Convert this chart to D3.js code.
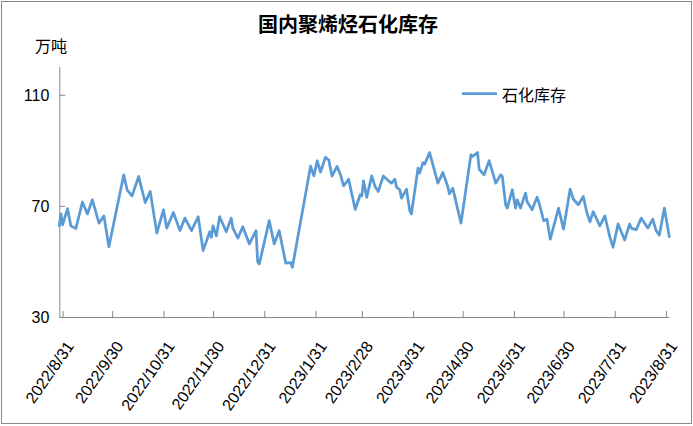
<!DOCTYPE html>
<html><head><meta charset="utf-8">
<script src="https://cdn.jsdelivr.net/npm/d3@7/dist/d3.min.js"></script>
<style>
html,body{margin:0;padding:0;background:#fff;}
svg{display:block;}
</style></head>
<body>
<svg id="chart" width="693" height="426"></svg>
<script>
const title = "国内聚烯烃石化库存";
const unitLabel = "万吨";
const seriesName = "石化库存";
const dates = ["2022-08-29","2022-08-30","2022-08-31","2022-09-03","2022-09-05","2022-09-08","2022-09-12","2022-09-15","2022-09-18","2022-09-22",
"2022-09-25","2022-09-28","2022-10-07","2022-10-09","2022-10-12","2022-10-16","2022-10-18","2022-10-20","2022-10-23","2022-10-27",
"2022-10-31","2022-11-02","2022-11-06","2022-11-10","2022-11-13","2022-11-17","2022-11-21","2022-11-24","2022-11-28","2022-11-29",
"2022-11-30","2022-12-02","2022-12-04","2022-12-08","2022-12-11","2022-12-12","2022-12-15","2022-12-18","2022-12-22","2022-12-26",
"2022-12-27","2022-12-28","2023-01-03","2023-01-06","2023-01-09","2023-01-13","2023-01-16","2023-01-17","2023-01-28","2023-01-30",
"2023-02-01","2023-02-03","2023-02-06","2023-02-08","2023-02-10","2023-02-13","2023-02-15","2023-02-17","2023-02-20","2023-02-24",
"2023-02-27","2023-02-28","2023-03-01","2023-03-03","2023-03-06","2023-03-08","2023-03-10","2023-03-13","2023-03-16","2023-03-18",
"2023-03-20","2023-03-21","2023-03-23","2023-03-24","2023-03-27","2023-03-29","2023-03-30","2023-04-03","2023-04-04","2023-04-06",
"2023-04-07","2023-04-10","2023-04-15","2023-04-18","2023-04-21","2023-04-22","2023-04-24","2023-04-29","2023-05-05","2023-05-06",
"2023-05-09","2023-05-10","2023-05-13","2023-05-16","2023-05-20","2023-05-23","2023-05-24","2023-05-26","2023-05-27","2023-05-30",
"2023-06-01","2023-06-02","2023-06-04","2023-06-07","2023-06-08","2023-06-11","2023-06-14","2023-06-15","2023-06-18","2023-06-20",
"2023-06-22","2023-06-27","2023-06-30","2023-07-04","2023-07-06","2023-07-09","2023-07-12","2023-07-14","2023-07-16","2023-07-18",
"2023-07-22","2023-07-25","2023-07-28","2023-07-30","2023-08-02","2023-08-06","2023-08-09","2023-08-10","2023-08-13","2023-08-16",
"2023-08-20","2023-08-23","2023-08-25","2023-08-27","2023-08-30","2023-09-02"];
const values = [62.8,67.1,63.2,69.0,62.8,61.8,71.4,67.1,72.2,63.8,
66.4,55.3,81.2,75.8,73.6,80.6,75.8,71.2,75.2,60.2,
68.6,62.0,67.6,61.1,65.6,61.1,66.1,53.9,60.7,58.7,
62.8,59.2,66.1,60.7,65.6,62.0,58.4,62.5,56.3,61.1,
49.9,49.1,64.7,56.3,61.1,49.4,49.6,47.9,84.3,80.8,
86.2,82.2,87.5,86.5,80.7,84.2,81.4,77.2,79.6,68.7,
74.0,73.6,79.0,73.1,80.8,77.0,75.2,80.8,79.1,78.2,
79.6,76.7,75.8,72.8,76.0,68.3,67.1,83.6,81.8,85.6,
85.0,89.2,78.2,82.0,77.0,74.3,76.4,63.8,88.4,87.8,
89.2,83.2,81.2,86.3,78.2,81.2,80.6,70.4,69.2,75.8,
69.2,72.2,69.2,74.6,71.5,68.6,73.1,71.5,64.7,65.2,
58.0,69.2,61.6,76.0,72.4,70.4,73.4,67.9,64.3,67.9,
62.8,66.4,58.9,55.1,63.5,57.7,63.5,62.0,61.4,65.6,
62.0,65.2,61.1,59.5,69.2,58.9];
const xTickDates = ["2022-08-31","2022-09-30","2022-10-31","2022-11-30","2022-12-31","2023-01-31","2023-02-28","2023-03-31","2023-04-30","2023-05-31","2023-06-30","2023-07-31","2023-08-31"];
const yTicks = [30,70,110];
const yDomain = [30,120];
const xDomain = ["2022-08-29","2023-09-02"];

(function(){
const parse = d3.timeParse("%Y-%m-%d");
const fmt = d3.timeFormat("%Y/%-m/%-d");
const data = dates.map((d,i)=>({date:parse(d), value:values[i]}));

const svg = d3.select("#chart");
const W = 693, H = 426;
const mLeft = 59.3, mRight = 669.3, mTop = 67, mBottom = 317;
const axisColor = "#898989";
const lineColor = "#5B9BD5";
const numFont = "'Liberation Sans', Arial, sans-serif";
const cjkFont = "'Noto Sans CJK SC', sans-serif";

svg.append("rect").attr("x",1.5).attr("y",1.5).attr("width",W-3).attr("height",H-4)
  .attr("fill","#fff").attr("stroke",axisColor).attr("stroke-width",1);

const x = d3.scaleTime().domain(xDomain.map(parse)).range([mLeft,mRight]);
const y = d3.scaleLinear().domain(yDomain).range([mBottom,mTop]);

svg.append("text").attr("x",348).attr("y",32).attr("text-anchor","middle")
  .attr("font-family",cjkFont).attr("font-weight","bold").attr("font-size",20)
  .attr("fill","#000").text(title);

svg.append("text").attr("x",35).attr("y",45).attr("dominant-baseline","central")
  .attr("font-family",cjkFont).attr("font-size",16).attr("fill","#000").text(unitLabel);

const yAxis = d3.axisRight(y).tickValues(yTicks).tickSize(6).tickFormat(d3.format("d"));
const gy = svg.append("g").attr("transform",`translate(${mLeft},0)`).call(yAxis);
gy.select(".domain").attr("stroke",axisColor).attr("d",`M0.5,${mTop}V${mBottom}`);
gy.selectAll(".tick line").attr("stroke",axisColor).attr("x1",0.5);
gy.selectAll(".tick text").attr("x",-10).attr("text-anchor","end")
  .attr("font-family",numFont).attr("font-size",16).attr("fill","#000").attr("dy","0.35em");

const xAxis = d3.axisTop(x).tickValues(xTickDates.map(parse)).tickSize(6).tickFormat(fmt);
const gx = svg.append("g").attr("transform",`translate(0,${mBottom})`).call(xAxis);
gx.select(".domain").attr("stroke",axisColor).attr("d",`M${mLeft},0.5H${mRight}`);
gx.selectAll(".tick line").attr("stroke",axisColor).attr("y1",0.5);
gx.selectAll(".tick text")
  .attr("font-family",numFont).attr("font-size",16).attr("fill","#000")
  .attr("text-anchor","end").attr("dominant-baseline","central").attr("dy",null).attr("y",null)
  .attr("transform","translate(7,26) rotate(-55)");

const line = d3.line().x(d=>x(d.date)).y(d=>y(d.value));
svg.append("path").datum(data).attr("d",line).attr("fill","none")
  .attr("stroke",lineColor).attr("stroke-width",2.75).attr("stroke-linejoin","round").attr("stroke-linecap","round");

const lg = svg.append("g");
lg.append("line").attr("x1",462).attr("x2",497).attr("y1",93.5).attr("y2",93.5)
  .attr("stroke",lineColor).attr("stroke-width",2.75);
lg.append("text").attr("x",502).attr("y",94).attr("dominant-baseline","central")
  .attr("font-family",cjkFont).attr("font-size",16).attr("fill","#000").text(seriesName);
})();
</script>
</body></html>
